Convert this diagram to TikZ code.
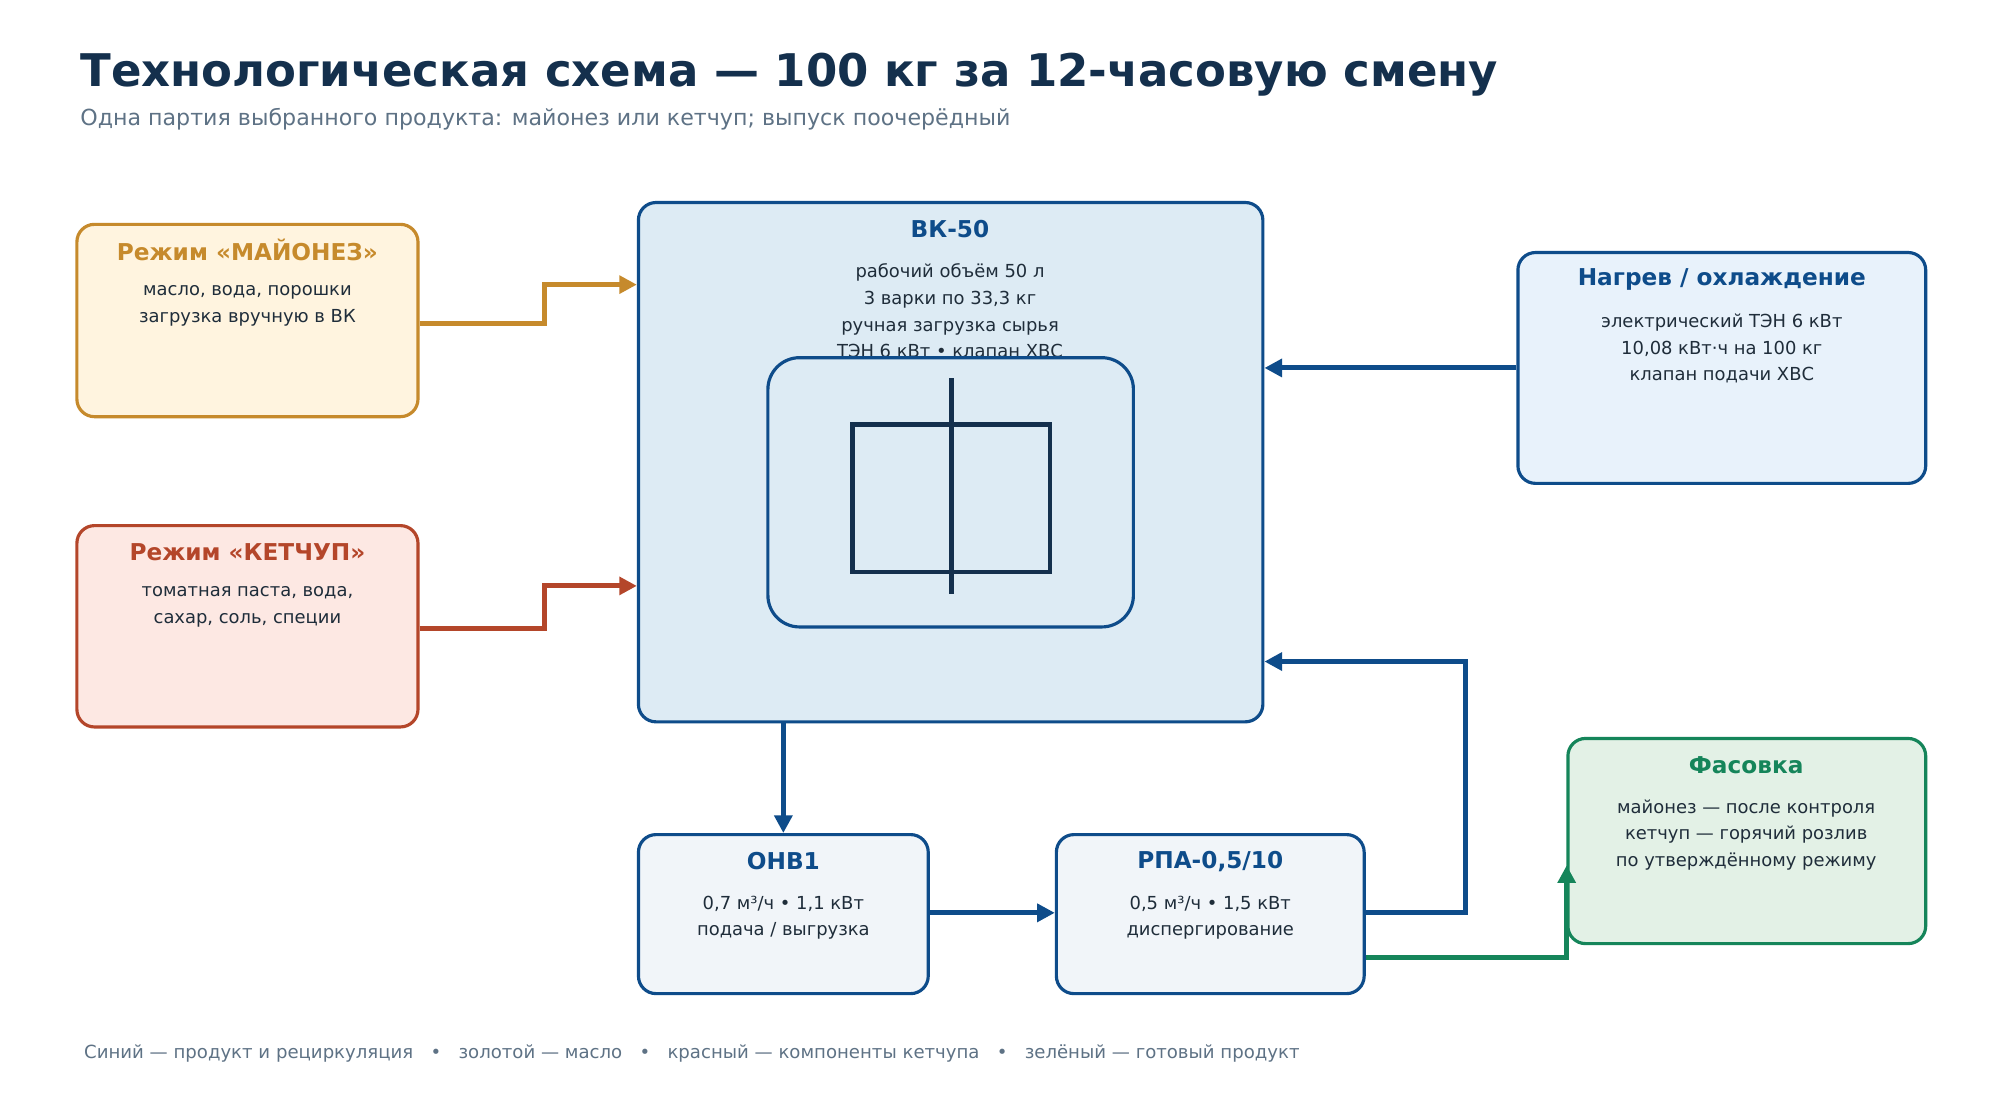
\documentclass[tikz,border=0pt]{standalone}
\usepackage{fontspec}
\setmainfont{DejaVu Sans}
\usetikzlibrary{arrows.meta}
\definecolor{navy}{HTML}{14304D}
\definecolor{bl}{HTML}{0E4C8A}
\definecolor{gold}{HTML}{C68A2C}
\definecolor{rd}{HTML}{B4462A}
\definecolor{gr}{HTML}{15855A}
\definecolor{gray}{HTML}{5E7285}
\definecolor{txt}{HTML}{1F2D3A}
\definecolor{fmayo}{HTML}{FFF4DF}
\definecolor{fket}{HTML}{FDE8E3}
\definecolor{fvk}{HTML}{DDEBF4}
\definecolor{fheat}{HTML}{E8F2FB}
\definecolor{fsm}{HTML}{F1F5F9}
\definecolor{fpack}{HTML}{E3F1E6}
\begin{document}
\begin{tikzpicture}[x=0.01282cm,y=-0.01282cm,
  box/.style={draw,line width=0.9pt,rounded corners=5pt,inner sep=0pt},
  ttl/.style={font=\fontsize{6.6}{8}\selectfont\bfseries},
  bd/.style={font=\fontsize{5.1}{7.6}\selectfont,text=txt,align=center},
  arr/.style={line width=1.4pt,-{Triangle[length=5pt,width=5pt]}},
  ln/.style={line width=1.4pt}]
\useasboundingbox (0,0) rectangle (1560,858);
\fill[white] (0,0) rectangle (1560,858);
\node[anchor=west,text=navy,font=\fontsize{12.8}{15}\selectfont\bfseries] (title) at (53,58) {Технологическая схема — 100 кг за 12-часовую смену};
\node[anchor=west,text=gray,font=\fontsize{6.3}{8}\selectfont] (sub) at (53,93) {Одна партия выбранного продукта: майонез или кетчуп; выпуск поочерёдный};
% boxes
\node[box,draw=gold,fill=fmayo,minimum width=3.41cm,minimum height=1.923cm] (mayo) at (193,250) {};
\node[box,draw=rd,fill=fket,minimum width=3.41cm,minimum height=2.013cm] (ket) at (193,488.5) {};
\node[box,draw=bl,fill=fvk,minimum width=6.243cm,minimum height=5.192cm] (vk) at (741.5,360.5) {};
\node[box,draw=bl,fill=fheat,minimum width=4.077cm,minimum height=2.308cm] (heat) at (1343,287) {};
\node[box,draw=bl,fill=fsm,minimum width=2.897cm,minimum height=1.59cm] (onv) at (611,713) {};
\node[box,draw=bl,fill=fsm,minimum width=3.077cm,minimum height=1.59cm] (rpa) at (944,713) {};
\node[box,draw=gr,fill=fpack,minimum width=3.577cm,minimum height=2.051cm] (pack) at (1362.5,656) {};
% texts
\node[ttl,text=gold] (mayoT) at (193,195) {Режим «МАЙОНЕЗ»};
\node[bd,anchor=north] (mayoB) at (193,213) {масло, вода, порошки\\загрузка вручную в ВК};
\node[ttl,text=rd] (ketT) at (193,431) {Режим «КЕТЧУП»};
\node[bd,anchor=north] (ketB) at (193,448) {томатная паста, вода,\\сахар, соль, специи};
\node[ttl,text=bl] (vkT) at (741,179) {ВК-50};
\node[bd,anchor=north] (vkB) at (741,196) {рабочий объём 50 л\\3 варки по 33,3 кг\\ручная загрузка сырья\\ТЭН 6 кВт • клапан ХВС};
\node[box,draw=bl,fill=fvk,rounded corners=9pt,minimum width=3.654cm,minimum height=2.692cm] (inner) at (741.5,384) {};
\node[draw=navy,line width=1.3pt,minimum width=1.974cm,minimum height=1.474cm,inner sep=0pt] (sym) at (742,388.5) {};
\coordinate (st) at (742,295); \coordinate (sb) at (742,463);
\draw[navy,line width=1.3pt] (st) -- (sb);
\node[ttl,text=bl] (heatT) at (1343,218) {Нагрев / охлаждение};
\node[bd,anchor=north] (heatB) at (1343,235) {электрический ТЭН 6 кВт\\10,08 кВт·ч на 100 кг\\клапан подачи ХВС};
\node[ttl,text=bl] (onvT) at (611,672) {ОНВ1};
\node[bd,anchor=north] (onvB) at (611,689) {0,7 м³/ч • 1,1 кВт\\подача / выгрузка};
\node[ttl,text=bl] (rpaT) at (944,672) {РПА-0,5/10};
\node[bd,anchor=north] (rpaB) at (944,689) {0,5 м³/ч • 1,5 кВт\\диспергирование};
\node[ttl,text=gr] (packT) at (1362,597) {Фасовка};
\node[bd,anchor=north] (packB) at (1362,614) {майонез — после контроля\\кетчуп — горячий розлив\\по утверждённому режиму};
% connectors
\draw[arr,gold] (mayo.east|-0,252) -| (425,237) |- (vk.west|-0,222);
\draw[arr,rd] (ket.east|-0,490) -| (425,474) |- (vk.west|-0,457);
\draw[arr,bl] (heat.west) -- (vk.east|-heat.west);
\draw[arr,bl] (vk.south-|onv.north) -- (onv.north);
\draw[arr,bl] (onv.east|-0,712) -- (rpa.west|-0,712);
\draw[arr,bl] (rpa.east|-0,712) -| (1143,600) |- (vk.east|-0,516);
\draw[arr,gr] (rpa.east|-0,747) -| (1222,675);
\node[anchor=west,text=gray,font=\fontsize{5.15}{6}\selectfont] (leg) at (56,822) {Синий — продукт и рециркуляция \ \ • \ \ золотой — масло \ \ • \ \ красный — компоненты кетчупа \ \ • \ \ зелёный — готовый продукт};
\end{tikzpicture}
\end{document}
